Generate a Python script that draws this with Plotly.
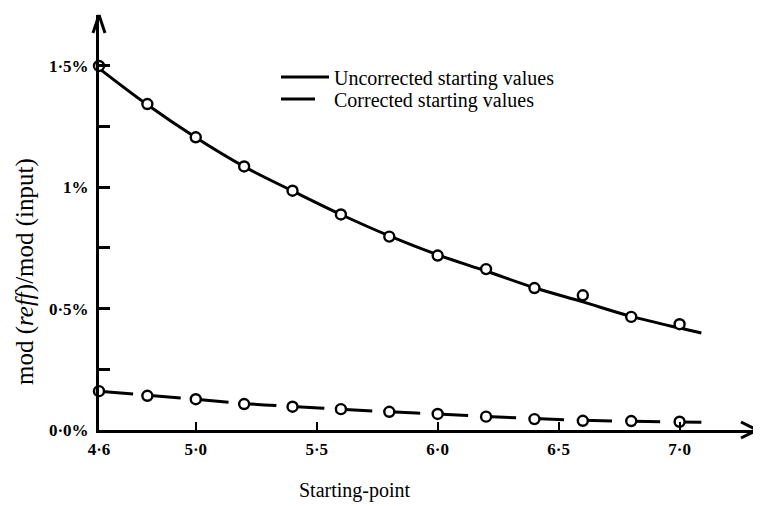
import plotly.graph_objects as go

# ---- data ----
x_pts = [4.6, 4.8, 5.0, 5.2, 5.4, 5.6, 5.8, 6.0, 6.2, 6.4, 6.6, 6.8, 7.0]
uncorrected_pts = [1.500, 1.343, 1.206, 1.086, 0.986, 0.888, 0.797, 0.719, 0.663, 0.585, 0.555, 0.466, 0.436]
corrected_pts = [0.160, 0.141, 0.127, 0.107, 0.096, 0.086, 0.075, 0.066, 0.055, 0.045, 0.038, 0.037, 0.034]

# smooth hand-drawn curves
x_curve_u = [4.6, 4.8, 5.0, 5.2, 5.4, 5.6, 5.8, 6.0, 6.2, 6.4, 6.6, 6.8, 7.0, 7.09]
y_curve_u = [1.49, 1.34, 1.205, 1.085, 0.985, 0.888, 0.80, 0.722, 0.655, 0.586, 0.528, 0.468, 0.42, 0.40]
x_curve_c = [4.6, 4.8, 5.0, 5.2, 5.4, 5.6, 5.8, 6.0, 6.2, 6.4, 6.6, 6.8, 7.0, 7.09]
y_curve_c = [0.160, 0.143, 0.127, 0.109, 0.097, 0.086, 0.075, 0.066, 0.056, 0.047, 0.040, 0.036, 0.033, 0.032]

x_tickvals = [4.6, 5.0, 5.5, 6.0, 6.5, 7.0]
x_ticktext = ["4·6", "5·0", "5·5", "6·0", "6·5", "7·0"]
y_tickvals = [0, 0.25, 0.5, 0.75, 1.0, 1.25, 1.5]
y_ticktext = ["0·0%", "", "0·5%", "", "1%", "", "1·5%"]

series_names = ["Uncorrected starting values", "Corrected starting values"]
x_title = "Starting-point"
y_title = "mod (<i>reff</i>)/mod (input)"

X_MAX = 7.32
Y_MAX = 1.71
SERIF = "Liberation Serif, Times New Roman, serif"

# the page has an 8px body margin, so the figure is drawn 8px in from the corner
OFF = 8
W, H = 761 - OFF, 506 - OFF
ML, MT = 99 - OFF, 15 - OFF
PW, PH = 658, 415
MR, MB = W - ML - PW, H - MT - PH


def px_to_paper_x(px):
    return (px - OFF - ML) / PW


def px_to_paper_y(py):
    return (MT + PH - (py - OFF)) / PH


fig = go.Figure()

fig.add_trace(go.Scatter(
    x=x_curve_u, y=y_curve_u, mode="lines", name=series_names[0], legend="legend",
    line=dict(color="black", width=3, shape="spline"), cliponaxis=False))
fig.add_trace(go.Scatter(
    x=x_curve_c, y=y_curve_c, mode="lines", name=series_names[1], legend="legend2",
    line=dict(color="black", width=3, dash="34px,14px", shape="spline"), cliponaxis=False))
fig.add_trace(go.Scatter(
    x=x_pts, y=uncorrected_pts, mode="markers", showlegend=False,
    marker=dict(symbol="circle", size=10, color="white", line=dict(color="black", width=2.4)),
    cliponaxis=False))
fig.add_trace(go.Scatter(
    x=x_pts, y=corrected_pts, mode="markers", showlegend=False,
    marker=dict(symbol="circle", size=10, color="white", line=dict(color="black", width=2.4)),
    cliponaxis=False))

# open arrow heads at the ends of the axes (paper coords, not clipped)
dx = 1.0 / PW
dy = 1.0 / PH
head = [
    (1, 0, 1 - 16 * dx, 8 * dy),
    (1, 0, 1 - 16 * dx, -8 * dy),
    (0, 1, -6 * dx, 1 - 18 * dy),
    (0, 1, 6 * dx, 1 - 18 * dy),
]
for x0, y0, x1, y1 in head:
    fig.add_shape(type="line", xref="paper", yref="paper", x0=x0, y0=y0, x1=x1, y1=y1,
                  line=dict(color="black", width=3))

# axis titles
fig.add_annotation(text=x_title, xref="paper", yref="paper",
                   x=px_to_paper_x(355), y=px_to_paper_y(490),
                   xanchor="center", yanchor="middle", showarrow=False,
                   font=dict(family=SERIF, size=20))
fig.add_annotation(text=y_title, xref="paper", yref="paper",
                   x=px_to_paper_x(25), y=px_to_paper_y(272), textangle=-90,
                   xanchor="center", yanchor="middle", showarrow=False,
                   font=dict(family=SERIF, size=25))

legend_common = dict(xanchor="left", yanchor="middle", bgcolor="rgba(0,0,0,0)",
                     font=dict(family=SERIF, size=20), itemwidth=48)

fig.update_layout(
    width=W, height=H,
    margin=dict(l=ML, r=MR, t=MT, b=MB),
    paper_bgcolor="white", plot_bgcolor="white",
    font=dict(family=SERIF, color="black", size=15),
    showlegend=True,
    legend=dict(x=px_to_paper_x(276), y=px_to_paper_y(77), **legend_common),
    legend2=dict(x=px_to_paper_x(276), y=px_to_paper_y(99), **legend_common),
    xaxis=dict(
        range=[4.6, X_MAX], showgrid=False, zeroline=False, automargin=False,
        showline=True, linecolor="black", linewidth=3,
        tickmode="array", tickvals=x_tickvals, ticktext=x_ticktext,
        ticks="inside", ticklen=8, tickwidth=2, tickcolor="black",
        ticklabelstandoff=2,
        tickfont=dict(family=SERIF, size=17, weight="bold"),
    ),
    yaxis=dict(
        range=[0, Y_MAX], showgrid=False, zeroline=False, automargin=False,
        showline=True, linecolor="black", linewidth=3,
        tickmode="array", tickvals=y_tickvals, ticktext=y_ticktext,
        ticks="inside", ticklen=11, tickwidth=3, tickcolor="black",
        ticklabelstandoff=4,
        tickfont=dict(family=SERIF, size=17, weight="bold"),
    ),
)

fig.write_html("out.html")
